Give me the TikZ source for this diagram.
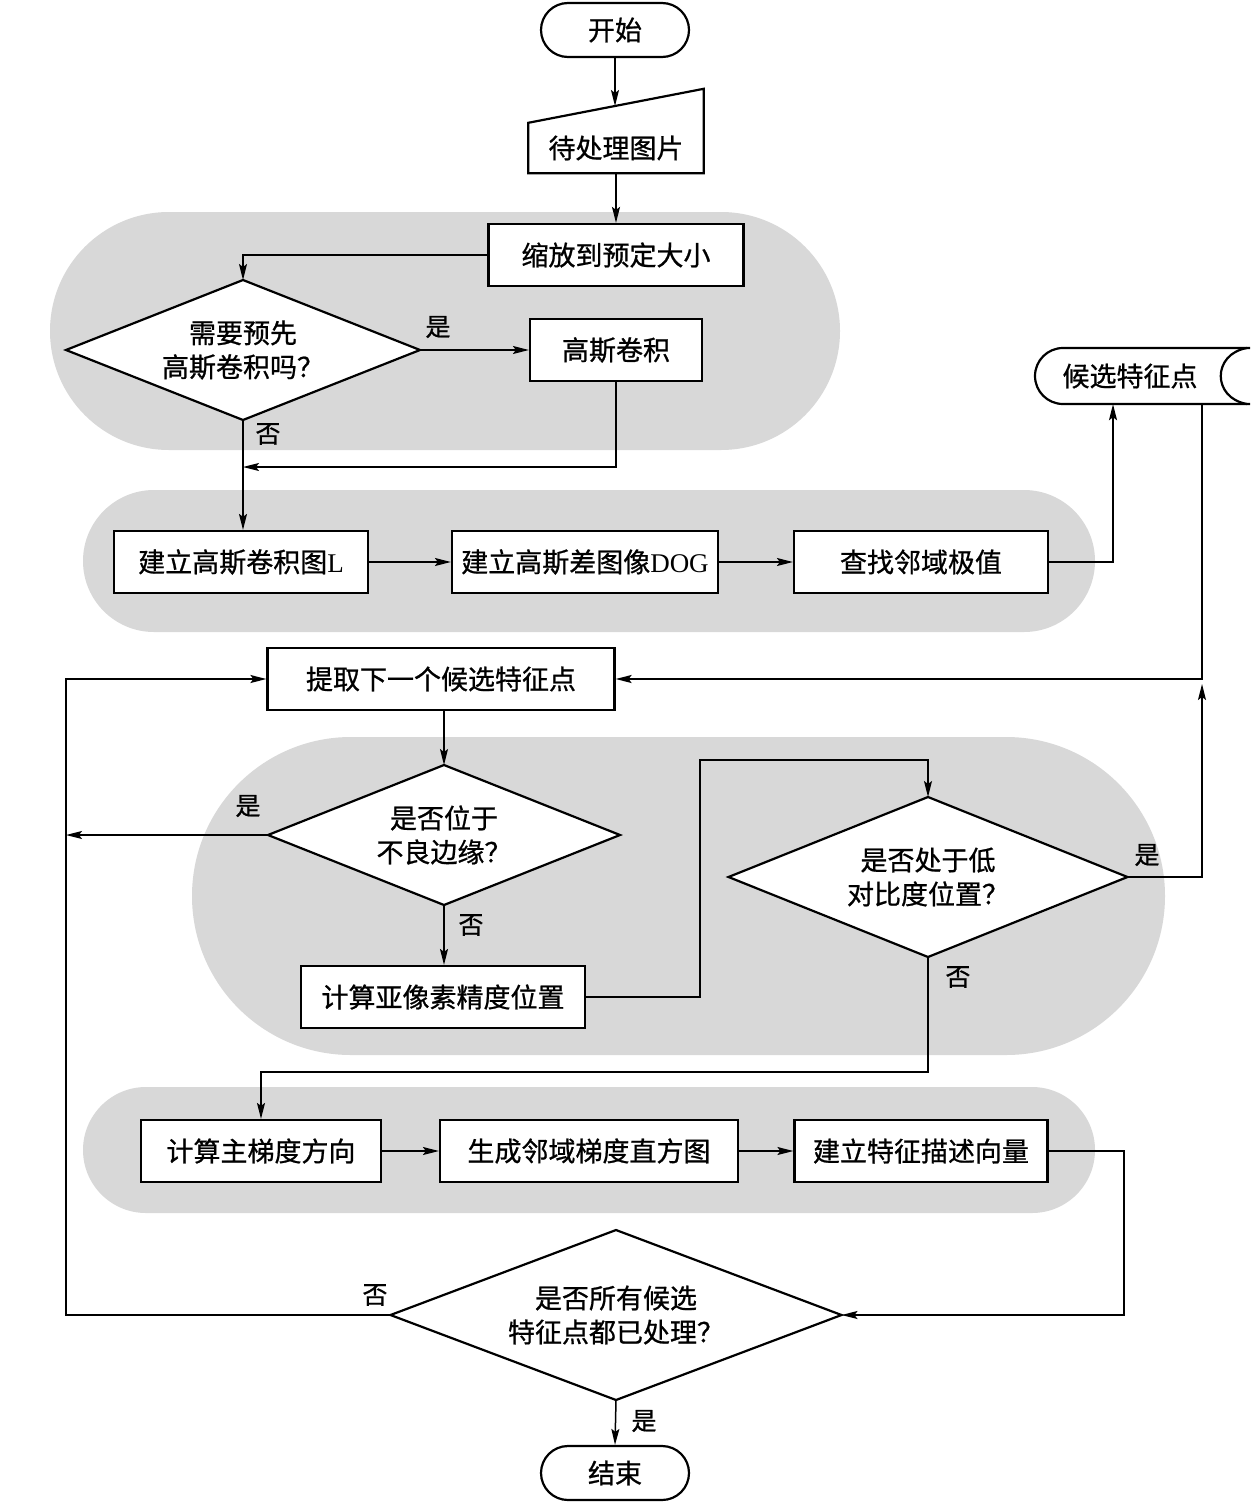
\documentclass[tikz,border=0pt]{standalone}
\usepackage{fontspec}
\setmainfont{Liberation Serif}
\newfontfamily\cjk{Noto Sans CJK SC}[FakeBold=0.8]
\usetikzlibrary{arrows.meta}
\definecolor{bandgray}{RGB}{216,216,216}
\newcommand\mydiam[6]{%
  \coordinate (#1-n) at ({#2},{#3-#5/2});
  \coordinate (#1-s) at ({#2},{#3+#5/2});
  \coordinate (#1-e) at ({#2+#4/2},{#3});
  \coordinate (#1-w) at ({#2-#4/2},{#3});
  \draw[line width=2.2pt,fill=white,line join=miter] (#1-n) -- (#1-e) -- (#1-s) -- (#1-w) -- cycle;
  \node[txt,align=center] (#1) at (#2,#3) {#6};}
\begin{document}
\begin{tikzpicture}[x=1pt,y=-1pt,
  txt/.style={font=\fontsize{27}{34}\selectfont\cjk,inner sep=0pt},
  box/.style={txt,draw,line width=2.2pt,fill=white,minimum height=62pt,align=center},
  term/.style={box,rounded corners=27pt,minimum width=148pt,minimum height=54pt},
  lbl/.style={font=\fontsize{25}{30}\selectfont\cjk,inner sep=0pt},
  arr/.style={line width=1.5pt,-{Stealth[length=16pt,width=8pt,inset=3pt]}},
]
\useasboundingbox (0,0) rectangle (1250,1504);
\fill[white] (0,0) rectangle (1250,1504);

% gray bands
\fill[bandgray,rounded corners=119pt] (50,212) rectangle (840,450);
\fill[bandgray,rounded corners=71pt] (83,490) rectangle (1095,632);
\fill[bandgray,rounded corners=159pt] (192,737) rectangle (1165,1055);
\fill[bandgray,rounded corners=63pt] (83,1087) rectangle (1095,1213);

% start
\node[term] (start) at (615,30) {开始};

% manual input
\node[txt,minimum width=175pt,minimum height=50pt] (input) at (616,148) {};
\draw[line width=2.2pt,fill=white] (input.south west) -- (input.south east) -- ([yshift=34pt]input.north east) -- (input.north west) -- cycle;
\node[txt] (inputtext) at (input.center) {待处理图片};
\coordinate (inTop) at (615,106);

\node[box,minimum width=255pt] (scale) at (616,255) {缩放到预定大小};
\mydiam{d1}{243}{350}{354}{140}{需要预先\\高斯卷积吗？}
\node[box,minimum width=172pt] (gauss) at (616,350) {高斯卷积};
\coordinate (j1) at (243,467);

\node[box,minimum width=254pt] (buildL) at (241,562) {建立高斯卷积图{\rmfamily L}};
\node[box,minimum width=266pt] (dog) at (585,562) {建立高斯差图像{\rmfamily DOG}};
\node[box,minimum width=254pt] (find) at (921,562) {查找邻域极值};

% candidate storage
\node[txt,minimum width=150pt,minimum height=56pt] (cand) at (1130,376) {};
\draw[line width=2.2pt,fill=white] (1250,348) -- (1063,348) arc[start angle=270,end angle=90,radius=28] -- (1250,404);
\draw[line width=2.2pt] (1247,348) .. controls (1212,354) and (1212,398) .. (1247,404);
\node[txt] (candtext) at (cand.center) {候选特征点};

\node[box,minimum width=347pt] (extract) at (441,679) {提取下一个候选特征点};
\mydiam{d2}{444}{835}{352}{140}{是否位于\\不良边缘？}
\node[box,minimum width=284pt] (subpix) at (443,997) {计算亚像素精度位置};
\mydiam{d3}{928}{877}{399}{160}{是否处于低\\对比度位置？}

\node[box,minimum width=240pt] (grad) at (261,1151) {计算主梯度方向};
\node[box,minimum width=298pt] (hist) at (589,1151) {生成邻域梯度直方图};
\node[box,minimum width=253pt] (desc) at (921,1151) {建立特征描述向量};

\mydiam{d4}{616}{1315}{451}{170}{是否所有候选\\特征点都已处理？}
\node[term] (end) at (615,1473) {结束};

\coordinate (jr) at (1202,684);
\coordinate (jl) at (66,835);

% connectors
\draw[arr] (start.south) -- (inTop);
\draw[arr] (input.south) -- (scale.north);
\draw[arr] (scale.west) -| (d1-n);
\draw[arr] (d1-e) -- (gauss.west);
\draw[arr] (d1-s) -- (d1-s |- buildL.north);
\draw[arr] (gauss.south) |- (j1);
\draw[arr] (buildL.east) -- (dog.west);
\draw[arr] (dog.east) -- (find.west);
\draw[arr] (find.east) -| ([xshift=-17pt]cand.south);
\draw[arr] ([xshift=72pt]cand.south) |- (extract.east);
\draw[arr] (d3-e) -| (jr);
\draw[arr] (d2-n |- extract.south) -- (d2-n);
\draw[arr] (d2-w) -- (jl);
\draw[arr] (d2-s) -- (d2-s |- subpix.north);
\draw[arr] (subpix.east) -- (subpix.east -| 700,0) |- (d3-n |- 0,760) -- (d3-n);
\draw[arr] (d3-s) -- (d3-s |- 0,1072) -| (grad.north);
\draw[arr] (grad.east) -- (hist.west);
\draw[arr] (hist.east) -- (desc.west);
\draw[arr] (desc.east) -- (desc.east -| 1124,0) |- (d4-e);
\draw[arr] (d4-w) -- (d4-w -| 66,0) |- (extract.west);
\draw[arr] (d4-s) -- (end.north);

% labels
\node[lbl] (l1) at (438,327) {是};
\node[lbl] (l2) at (268,434) {否};
\node[lbl] (l3) at (248,806) {是};
\node[lbl] (l4) at (471,925) {否};
\node[lbl] (l5) at (1147,855) {是};
\node[lbl] (l6) at (958,977) {否};
\node[lbl] (l7) at (375,1295) {否};
\node[lbl] (l8) at (644,1421) {是};
\end{tikzpicture}
\end{document}
